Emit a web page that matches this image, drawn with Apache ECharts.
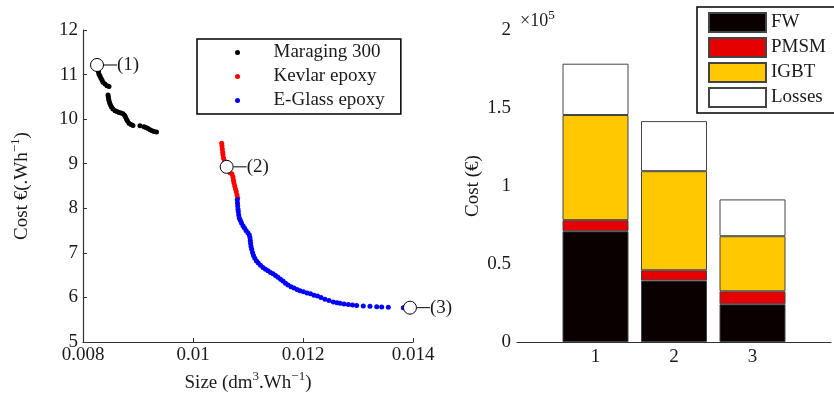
<!DOCTYPE html>
<html>
<head>
<meta charset="utf-8">
<script src="https://cdn.jsdelivr.net/npm/echarts@6/dist/echarts.min.js"></script>
<style>
  html, body { margin: 0; padding: 0; background: #fff; }
  #chart { width: 834px; height: 399px; }
</style>
</head>
<body>
<div id="chart"></div>
<script>
// left plot: cost vs size, one scatter per rotor material
const maragingPoints = [
  [0.008255, 11.19], [0.008264, 11.15], [0.008273, 11.10], [0.008282, 11.06], [0.008291, 11.01],
  [0.008309, 10.97], [0.008327, 10.92], [0.008345, 10.88], [0.008364, 10.83], [0.008400, 10.79],
  [0.008436, 10.75], [0.008473, 10.73],
  [0.008455, 10.54], [0.008460, 10.50], [0.008467, 10.45], [0.008473, 10.41], [0.008485, 10.36],
  [0.008500, 10.32], [0.008518, 10.27], [0.008545, 10.23], [0.008582, 10.19], [0.008618, 10.17],
  [0.008655, 10.15], [0.008691, 10.14], [0.008727, 10.12], [0.008755, 10.09], [0.008773, 10.05],
  [0.008791, 10.00], [0.008809, 9.96], [0.008836, 9.91], [0.008873, 9.88], [0.008909, 9.86],
  [0.009036, 9.85], [0.009109, 9.83], [0.009145, 9.81], [0.009182, 9.79], [0.009218, 9.76],
  [0.009255, 9.74], [0.009291, 9.72], [0.009336, 9.71]
]
const kevlarPoints = [
  [0.010522, 9.46], [0.010527, 9.40], [0.010533, 9.33], [0.010540, 9.26], [0.010545, 9.20],
  [0.010555, 9.13], [0.010573, 9.06], [0.010591, 8.99], [0.010609, 8.93], [0.010636, 8.86],
  [0.010673, 8.80], [0.010709, 8.77], [0.010727, 8.70], [0.010736, 8.63], [0.010745, 8.57],
  [0.010758, 8.50], [0.010773, 8.43], [0.010787, 8.37], [0.010800, 8.30], [0.010813, 8.23]
]
const glassPoints = [
  [0.010805, 8.19], [0.010809, 8.12], [0.010813, 8.05], [0.010818, 7.98], [0.010824, 7.92],
  [0.010831, 7.85], [0.010842, 7.78], [0.010860, 7.73], [0.010882, 7.67], [0.010909, 7.61],
  [0.010936, 7.56], [0.010964, 7.50], [0.010996, 7.45], [0.011024, 7.40], [0.011036, 7.34],
  [0.011042, 7.28], [0.011047, 7.21], [0.011055, 7.14], [0.011067, 7.08], [0.011082, 7.01],
  [0.011100, 6.94], [0.011124, 6.88], [0.011155, 6.82], [0.011187, 6.77], [0.011227, 6.72],
  [0.011273, 6.67], [0.011318, 6.63], [0.011364, 6.60], [0.011409, 6.56], [0.011455, 6.53],
  [0.011500, 6.49], [0.011545, 6.45], [0.011591, 6.41], [0.011636, 6.37], [0.011682, 6.32],
  [0.011727, 6.28], [0.011782, 6.24], [0.011836, 6.21], [0.011891, 6.18], [0.011945, 6.15],
  [0.012009, 6.13], [0.012073, 6.10], [0.012136, 6.08], [0.012200, 6.05], [0.012264, 6.03],
  [0.012327, 6.00], [0.012400, 5.96], [0.012473, 5.93], [0.012551, 5.90], [0.012618, 5.88],
  [0.012673, 5.87], [0.012745, 5.85], [0.012824, 5.84], [0.012900, 5.83], [0.012976, 5.82],
  [0.013096, 5.81], [0.013218, 5.80], [0.013340, 5.79], [0.013431, 5.785], [0.013551, 5.78],
  [0.013824, 5.77]
]
const designPoints = [[0.008255, 11.215], [0.010612, 8.93], [0.013945, 5.77]]
const designLabels = ['(1)', '(2)', '(3)']

// right plot: cost breakdown of the three designs
const barCategories = ['0', '1', '2', '3', '4']
const designNames = ['1', '2', '3']
const fwCost = [71000, 39400, 24200]
const pmsmCost = [7100, 6600, 8300]
const igbtCost = [67400, 63500, 35300]
const lossesCost = [32900, 32100, 23600]

const font = 'Liberation Serif, DejaVu Serif, serif'
const ink = '#1a1a1a'
const nameRich = {
  n: { fontSize: 19, lineHeight: 26, fontFamily: font, color: ink },
  s: { fontSize: 13, lineHeight: 14, fontFamily: font, color: ink, verticalAlign: 'top' }
}

const chart = echarts.init(document.getElementById('chart'))

const axisBase = {
  axisLine: { lineStyle: { color: '#333', width: 1.2 } },
  axisTick: { inside: true, length: 4, lineStyle: { color: '#333' } },
  axisLabel: { fontFamily: font, fontSize: 19, color: ink },
  splitLine: { show: false }
}

const pointSeries = (name, data, color) => ({
  name,
  type: 'scatter',
  xAxisIndex: 0,
  yAxisIndex: 0,
  data,
  symbolSize: 5,
  itemStyle: { color, opacity: 1 },
  emphasis: { disabled: true }
})

const stackSeries = (name, values, color) => ({
  name,
  type: 'bar',
  xAxisIndex: 1,
  yAxisIndex: 1,
  stack: 'cost',
  barWidth: 66,
  data: values.map((v, i) => [designNames[i], v]),
  itemStyle: { color, borderColor: '#444', borderWidth: 1 },
  emphasis: { disabled: true }
})

const option = {
  animation: false,
  title: {
    text: '{a|×10}{b|5}',
    left: 515,
    top: 4,
    textStyle: {
      rich: {
        a: { fontSize: 18, lineHeight: 24, fontFamily: font, color: ink, fontWeight: 'normal' },
        b: { fontSize: 13, lineHeight: 14, fontFamily: font, color: ink, fontWeight: 'normal', verticalAlign: 'top' }
      }
    }
  },
  grid: [
    { left: 83, top: 30, width: 330, bottom: 57 },
    { left: 517, top: 30, right: -11, bottom: 57 }
  ],
  legend: [
    {
      data: ['Maraging 300', 'Kevlar epoxy', 'E-Glass epoxy'],
      orient: 'vertical',
      left: 197,
      top: 39,
      padding: [3, 16, 3, 38],
      itemWidth: 62,
      itemHeight: 5,
      itemGap: 3,
      icon: 'circle',
      borderColor: '#000',
      borderWidth: 1.5,
      backgroundColor: '#fff',
      textStyle: { fontFamily: font, fontSize: 19, color: ink, lineHeight: 21 }
    },
    {
      data: ['FW', 'PMSM', 'IGBT', 'Losses'],
      orient: 'vertical',
      left: 697,
      top: 7,
      padding: [5, 11, 5, 11],
      itemWidth: 57,
      itemHeight: 19,
      itemGap: 4,
      icon: 'rect',
      borderColor: '#000',
      borderWidth: 1.5,
      backgroundColor: '#fff',
      textStyle: { fontFamily: font, fontSize: 19, color: ink, lineHeight: 21 }
    }
  ],
  xAxis: [
    {
      ...axisBase,
      gridIndex: 0,
      type: 'value',
      min: 0.008,
      max: 0.014,
      interval: 0.002,
      axisLabel: { ...axisBase.axisLabel, margin: 4 },
      name: '{n|Size (dm}{s|3}{n|.Wh}{s|−1}{n|)}',
      nameLocation: 'middle',
      nameGap: 27,
      nameTextStyle: { rich: nameRich }
    },
    {
      ...axisBase,
      gridIndex: 1,
      type: 'category',
      data: barCategories,
      boundaryGap: false,
      axisTick: { show: false },
      axisLabel: {
        ...axisBase.axisLabel,
        margin: 6,
        interval: 0,
        formatter: v => (designNames.includes(v) ? v : '')
      }
    }
  ],
  yAxis: [
    {
      ...axisBase,
      gridIndex: 0,
      type: 'value',
      min: 5,
      max: 12,
      interval: 1,
      axisLabel: { ...axisBase.axisLabel, margin: 5 },
      name: '{n|Cost €(.Wh}{s|−1}{n|)}',
      nameLocation: 'middle',
      nameRotate: 90,
      nameGap: 48,
      nameTextStyle: { rich: nameRich }
    },
    {
      ...axisBase,
      gridIndex: 1,
      type: 'value',
      min: 0,
      max: 200000,
      interval: 50000,
      axisLabel: { ...axisBase.axisLabel, margin: 6, formatter: v => String(v / 100000) },
      name: 'Cost (€)',
      nameLocation: 'middle',
      nameRotate: 90,
      nameGap: 34,
      nameTextStyle: { fontFamily: font, fontSize: 19, color: ink }
    }
  ],
  series: [
    pointSeries('Maraging 300', maragingPoints, '#000'),
    pointSeries('Kevlar epoxy', kevlarPoints, '#ff0000'),
    pointSeries('E-Glass epoxy', glassPoints, '#0000ff'),
    {
      type: 'scatter',
      xAxisIndex: 0,
      yAxisIndex: 0,
      data: designPoints.map((p, i) => ({ value: p, name: designLabels[i] })),
      symbolSize: 13,
      z: 5,
      itemStyle: { color: '#fff', borderColor: '#000', borderWidth: 1, opacity: 1 },
      emphasis: { disabled: true },
      label: {
        show: true,
        position: 'right',
        distance: 0,
        formatter: p => '{l|}{t|' + p.name + '}',
        rich: {
          l: { width: 13, height: 1, backgroundColor: '#000' },
          t: { fontSize: 19, fontFamily: font, color: ink }
        }
      }
    },
    stackSeries('FW', fwCost, '#0a0000'),
    stackSeries('PMSM', pmsmCost, '#e60000'),
    stackSeries('IGBT', igbtCost, '#ffc800'),
    stackSeries('Losses', lossesCost, '#ffffff')
  ]
}

chart.setOption(option)
window.addEventListener('resize', () => chart.resize())
</script>
</body>
</html>
